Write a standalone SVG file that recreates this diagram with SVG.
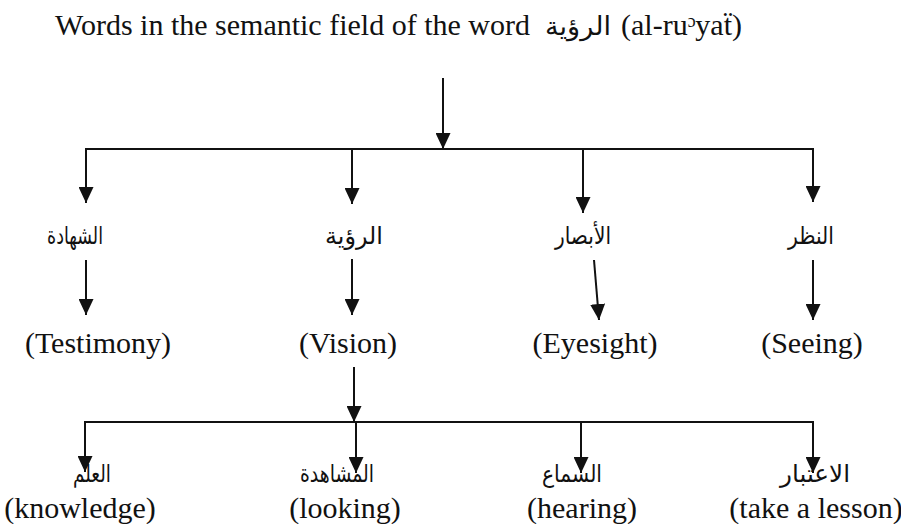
<svg xmlns="http://www.w3.org/2000/svg" width="901" height="524" viewBox="0 0 901 524">
<style>
.en{font-family:"Liberation Serif","Times New Roman",serif;font-size:30px;fill:#111}
.ar{font-family:"DejaVu Sans",sans-serif;font-size:24px;fill:#111}
.ln{stroke:#111;stroke-width:2;fill:none;stroke-linecap:square}
.ar-line{stroke:#111;stroke-width:2;fill:none;marker-end:url(#ah)}
</style>
<defs>
<marker id="ah" markerUnits="userSpaceOnUse" markerWidth="16" markerHeight="15" refX="16" refY="7.5" orient="auto" viewBox="0 0 16 15">
<path d="M0,0 L16,7.5 L0,15 z" fill="#111"/>
</marker>
</defs>
<rect width="901" height="524" fill="#fff"/>
<g id="title">
<text class="en" x="55" y="35">Words in the semantic field of the word</text>
<text class="ar" x="578" y="35" text-anchor="middle" style="font-size:26px" textLength="66" lengthAdjust="spacingAndGlyphs">الرؤية</text>
<text class="en" x="742" y="35" text-anchor="end">(al-ruᵓyaẗ)</text>
</g>
<g id="connectors">
<line class="ar-line" x1="443" y1="78" x2="443" y2="149"/>
<line class="ln" x1="86" y1="149" x2="813" y2="149"/>
<line class="ar-line" x1="86" y1="149" x2="86" y2="203"/>
<line class="ar-line" x1="352" y1="149" x2="352" y2="204"/>
<line class="ar-line" x1="583" y1="149" x2="583" y2="213"/>
<line class="ar-line" x1="813" y1="149" x2="813" y2="202"/>
<line class="ar-line" x1="86" y1="260" x2="86" y2="315"/>
<line class="ar-line" x1="352" y1="259" x2="352" y2="315"/>
<line class="ar-line" x1="594" y1="260" x2="599" y2="320"/>
<line class="ar-line" x1="813" y1="260" x2="813" y2="320"/>
<line class="ar-line" x1="354" y1="367" x2="354" y2="422"/>
<line class="ln" x1="85" y1="422" x2="813" y2="422"/>
<line class="ar-line" x1="356" y1="422" x2="356" y2="473"/>
<line class="ar-line" x1="85" y1="422" x2="85" y2="472"/>
<line class="ar-line" x1="581" y1="422" x2="581" y2="473"/>
<line class="ar-line" x1="813" y1="422" x2="813" y2="473"/>
</g>
<g id="n-shahada">
<text class="ar" x="75" y="244" text-anchor="middle" textLength="56" lengthAdjust="spacingAndGlyphs">الشهادة</text>
<text class="en" x="98" y="353" text-anchor="middle">(Testimony)</text>
</g>
<g id="n-ruya">
<text class="ar" x="354" y="244" text-anchor="middle" textLength="58" lengthAdjust="spacingAndGlyphs">الرؤية</text>
<text class="en" x="348" y="353" text-anchor="middle">(Vision)</text>
</g>
<g id="n-ibsar">
<text class="ar" x="583" y="244" text-anchor="middle" textLength="56" lengthAdjust="spacingAndGlyphs">الأبصار</text>
<text class="en" x="595" y="353" text-anchor="middle">(Eyesight)</text>
</g>
<g id="n-nazar">
<text class="ar" x="811" y="244" text-anchor="middle" textLength="46" lengthAdjust="spacingAndGlyphs">النظر</text>
<text class="en" x="812" y="353" text-anchor="middle">(Seeing)</text>
</g>
<g id="n-ilm">
<text class="ar" x="92" y="482" text-anchor="middle" textLength="38" lengthAdjust="spacingAndGlyphs">العلم</text>
<text class="en" x="80" y="518" text-anchor="middle">(knowledge)</text>
</g>
<g id="n-mushahada">
<text class="ar" x="337" y="482" text-anchor="middle" textLength="74" lengthAdjust="spacingAndGlyphs">المشاهدة</text>
<text class="en" x="345" y="518" text-anchor="middle">(looking)</text>
</g>
<g id="n-sama">
<text class="ar" x="572" y="482" text-anchor="middle" textLength="60" lengthAdjust="spacingAndGlyphs">السماع</text>
<text class="en" x="582" y="518" text-anchor="middle">(hearing)</text>
</g>
<g id="n-itibar">
<text class="ar" x="815" y="482" text-anchor="middle" textLength="70" lengthAdjust="spacingAndGlyphs">الاعتبار</text>
<text class="en" x="816" y="518" text-anchor="middle">(take a lesson)</text>
</g>
</svg>
